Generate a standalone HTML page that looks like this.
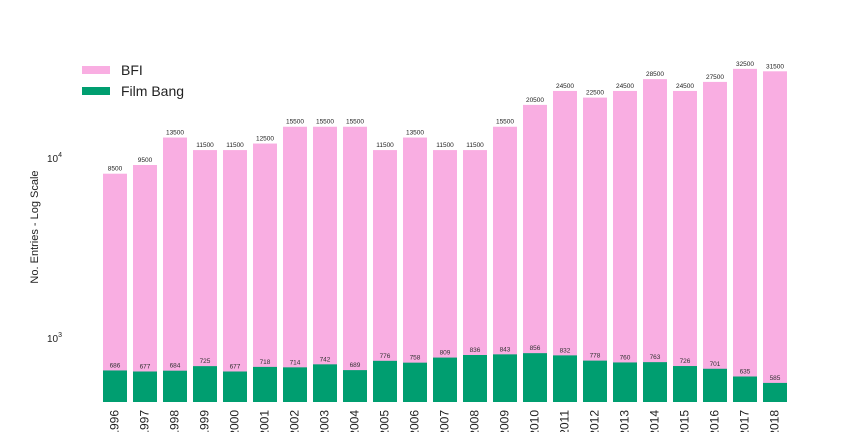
<!DOCTYPE html>
<html><head><meta charset="utf-8"><style>
body{margin:0;background:#fff;font-family:"Liberation Sans",sans-serif}
</style></head><body>
<svg id="c" width="864" height="432" xmlns="http://www.w3.org/2000/svg"></svg>
<script>
const years=["1996","1997","1998","1999","2000","2001","2002","2003","2004","2005","2006","2007","2008","2009","2010","2011","2012","2013","2014","2015","2016","2017","2018"];
const bfi=[8500,9500,13500,11500,11500,12500,15500,15500,15500,11500,13500,11500,11500,15500,20500,24500,22500,24500,28500,24500,27500,32500,31500];
const filmBang=[686,677,684,725,677,718,714,742,689,776,758,809,836,843,856,832,778,760,763,726,701,635,585];
const yTicks=[1000,10000];
const yTickExp=["3","4"];
const NS="http://www.w3.org/2000/svg";
const svg=document.getElementById('c');
const y0=341, dec=180, yMin=Math.pow(10,3-(402-341)/180);
function y(v){return y0-(Math.log10(v)-3)*dec;}
function x(i){return 115+30*i;}
const bw=24;
function el(t,a,txt){const e=document.createElementNS(NS,t);for(const k in a)e.setAttribute(k,a[k]);if(txt!==undefined)e.textContent=txt;svg.appendChild(e);return e;}
const yb=y(yMin);
bfi.forEach((v,i)=>{
 const r=el('rect',{x:x(i)-bw/2,y:y(v),width:bw,height:yb-y(v),fill:'#f9aee2'});
 
 
 const t=el('text',{x:x(i),y:y(v)-3,'font-size':6.5,'text-anchor':'middle',fill:'#222'},v);
 
 
});
filmBang.forEach((v,i)=>{
 const r=el('rect',{x:x(i)-bw/2,y:y(v),width:bw,height:yb-y(v),fill:'#009e70'});
 
 
 const t=el('text',{x:x(i),y:y(v)-3,'font-size':6.5,'text-anchor':'middle',fill:'#333'},v);
 
 
});
years.forEach((yr,i)=>{
 const t=el('text',{transform:`translate(${x(i)+3.5},410) rotate(-90)`,'font-size':12,'text-anchor':'end',fill:'#222'},yr);
 
 
});
yTicks.forEach((v,i)=>{
 const t=el('text',{x:47,y:y(v)+1,'font-size':10,fill:'#222'});
 
 
 t.innerHTML='10<tspan font-size="7" dy="-5">'+yTickExp[i]+'</tspan>';
});
const yl=el('text',{transform:'translate(38,227) rotate(-90)','font-size':11,'text-anchor':'middle',fill:'#222'},'No. Entries - Log Scale');


const l1=el('rect',{x:82,y:66,width:28,height:8,fill:'#f9aee2'});


const l2=el('rect',{x:82,y:87,width:28,height:8,fill:'#009e70'});


const t1=el('text',{x:121,y:75,'font-size':14,fill:'#222'},'BFI');


const t2=el('text',{x:121,y:96,'font-size':14,fill:'#222'},'Film Bang');


</script>
</body></html>
